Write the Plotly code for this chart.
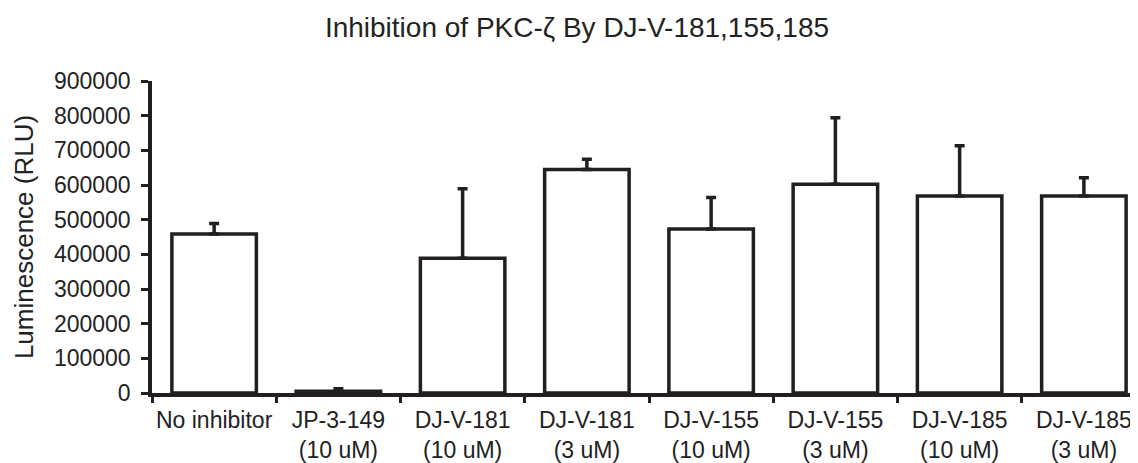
import plotly.graph_objects as go

categories = ["No inhibitor", "JP-3-149<br>(10 uM)", "DJ-V-181<br>(10 uM)", "DJ-V-181<br>(3 uM)",
              "DJ-V-155<br>(10 uM)", "DJ-V-155<br>(3 uM)", "DJ-V-185<br>(10 uM)", "DJ-V-185<br>(3 uM)"]
values = [459000, 5000, 389000, 645000, 473000, 602000, 568000, 568000]
errors = [30000, 7000, 200000, 29000, 91000, 192000, 145000, 53000]
y_ticks = [0, 100000, 200000, 300000, 400000, 500000, 600000, 700000, 800000, 900000]

ink = "#231f20"
txt = "#222222"
font_family = "Liberation Sans, Arial, sans-serif"

fig = go.Figure()
fig.add_trace(go.Bar(
    x=categories, y=values, width=0.68,
    marker=dict(color="white", line=dict(color=ink, width=3.5)),
    error_y=dict(type="data", array=errors, arrayminus=[0] * len(errors), symmetric=False,
                 color=ink, thickness=3.5, width=5),
))

fig.update_layout(
    width=1138, height=463,
    paper_bgcolor="white", plot_bgcolor="white",
    margin=dict(l=144, r=0, t=73, b=78),
    showlegend=False,
    font=dict(family=font_family, color=txt),
    title=dict(text="Inhibition of PKC-ζ By DJ-V-181,155,185", x=0.5, xanchor="center",
               yref="container", y=1 - 19 / 463, yanchor="middle",
               font=dict(size=28, color=txt)),
    xaxis=dict(showline=True, linecolor=ink, linewidth=3.5, tickson="boundaries",
               ticks="outside", ticklen=6, tickwidth=3, tickcolor=ink, tickangle=0,
               automargin=False, ticklabelstandoff=4,
               tickfont=dict(size=23, color=txt), range=[-0.5, 7.5], showgrid=False,
               zeroline=False),
    yaxis=dict(range=[0, 900000], tickvals=y_ticks, ticktext=[str(v) for v in y_ticks],
               showline=True, linecolor=ink, linewidth=3.5, ticks="outside", ticklen=7,
               tickwidth=3, tickcolor=ink, tickfont=dict(size=23, color=txt),
               ticklabelstandoff=6,
               showgrid=False, zeroline=False, automargin=False,
               title=dict(text="Luminescence (RLU)", font=dict(size=26, color=txt), standoff=14)),
)

fig.write_html("out.html")
